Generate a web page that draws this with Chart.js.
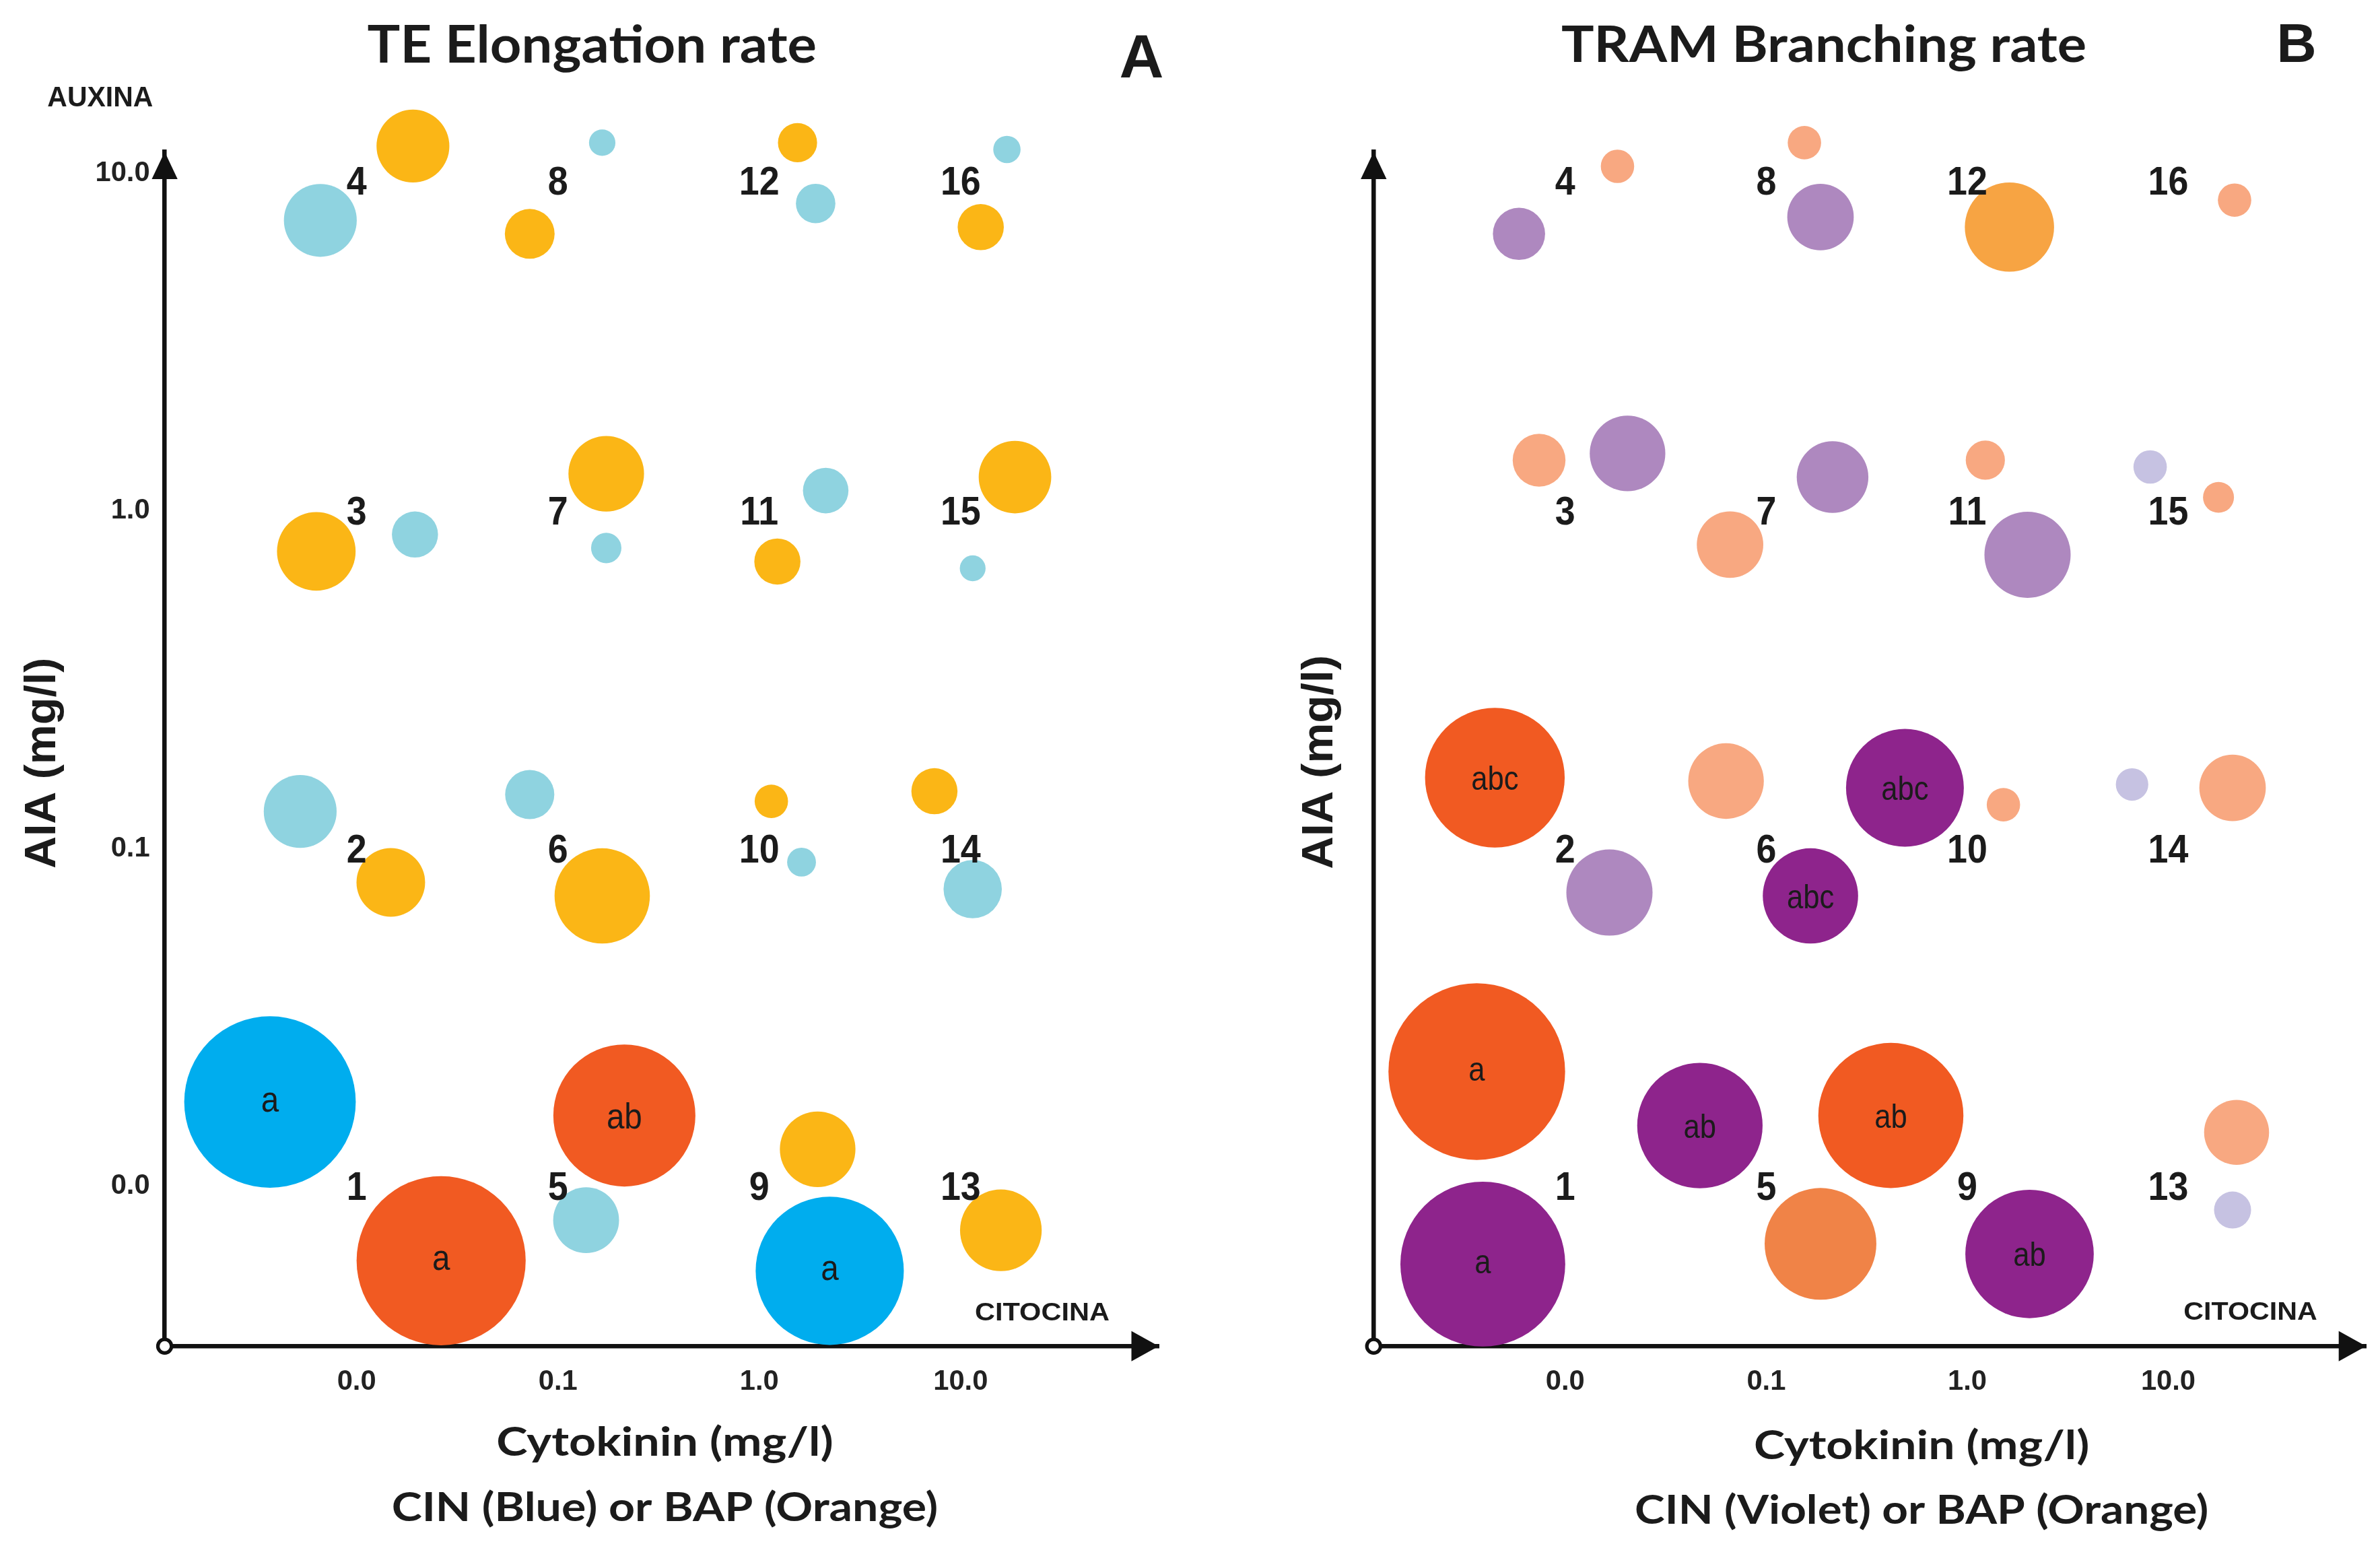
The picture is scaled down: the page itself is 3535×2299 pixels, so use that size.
<!DOCTYPE html>
<html>
<head>
<meta charset="utf-8">
<title>TE Elongation / TRAM Branching</title>
<script src="https://cdn.jsdelivr.net/npm/chart.js@4.4.1/dist/chart.umd.min.js"></script>
<style>
  html, body { margin: 0; padding: 0; background: #fff; overflow: hidden; }
  .panel { position: absolute; top: 0; height: 2299px; }
  #panelA { left: 0; width: 1768px; }
  #panelB { left: 1768px; width: 1767px; }
</style>
</head>
<body>
<div class="panel" id="panelA"><canvas id="chartA"></canvas></div>
<div class="panel" id="panelB"><canvas id="chartB"></canvas></div>
<script>
// treatment number k sits at column floor((k-1)/4) (cytokinin) and row (k-1)%4 (auxin)
const treatments = [1, 2, 3, 4, 5, 6, 7, 8, 9, 10, 11, 12, 13, 14, 15, 16];
const xTickLabels = ['0.0', '0.1', '1.0', '10.0'];
const yTickLabels = ['0.0', '0.1', '1.0', '10.0'];

// A - TE elongation rate, CIN (blue)
const aCinX    = [-0.43, -0.28, 0.29, -0.18, 1.14, 0.86, 1.24, 1.22, 2.35, 2.21, 2.33, 2.28, null, 3.06, 3.06, 3.23];
const aCinY    = [0.25, 1.11, 1.93, 2.86, -0.10, 1.16, 1.89, 3.09, -0.25, 0.96, 2.06, 2.91, null, 0.88, 1.83, 3.07];
const aCinSize = [56.5, 24, 15.2, 24, 21.7, 16.2, 10, 8.7, 48.8, 9.5, 15, 13, null, 19.2, 8.5, 9];
const aCinSig  = ['a', '', '', '', '', '', '', '', 'a', '', '', '', '', '', '', ''];
const aCinTone = [1, 0, 0, 0, 0, 0, 0, 0, 1, 0, 0, 0, 0, 0, 0, 0];

// A - TE elongation rate, BAP (orange)
const aBapX    = [0.42, 0.17, -0.20, 0.28, 1.33, 1.22, 1.24, 0.86, 2.29, 2.06, 2.09, 2.19, 3.20, 2.87, 3.27, 3.10];
const aBapY    = [-0.22, 0.90, 1.88, 3.08, 0.21, 0.86, 2.11, 2.82, 0.11, 1.14, 1.85, 3.09, -0.13, 1.17, 2.10, 2.84];
const aBapSize = [55.7, 22.6, 25.9, 24, 46.8, 31.4, 24.9, 16.4, 24.9, 11, 15.2, 12.9, 26.9, 15.2, 23.9, 15.2];
const aBapSig  = ['a', '', '', '', 'ab', '', '', '', '', '', '', '', '', '', '', ''];
const aBapTone = [1, 0, 0, 0, 1, 0, 0, 0, 0, 0, 0, 0, 0, 0, 0, 0];

// B - TRAM branching rate, CIN (violet)
const bCinX    = [-0.41, 0.22, 0.31, -0.23, 0.67, 1.22, 1.33, 1.27, 2.31, 1.69, 2.30, 2.09, 3.32, 2.82, 2.91, 3.08];
const bCinY    = [-0.23, 0.87, 2.17, 2.82, 0.18, 0.86, 2.10, 2.87, -0.20, 1.18, 1.87, 3.14, -0.07, 1.19, 2.13, 3.12];
const bCinSize = [54.3, 28.4, 24.9, 17.2, 41.3, 31.4, 23.6, 21.9, 42.3, 38.8, 28.4, 12.9, 12.2, 10.7, 11, 11];
const bCinSig  = ['a', '', '', '', 'ab', 'abc', '', '', 'ab', 'abc', '', '', '', '', '', ''];
const bCinTone = [2, 1, 1, 1, 2, 2, 1, 1, 2, 2, 1, 0, 0, 0, 0, 0];

// B - TRAM branching rate, BAP (orange)
const bBapX    = [-0.44, -0.35, -0.13, 0.26, 1.27, 0.80, 0.82, 1.19, 1.62, 2.18, 2.09, 2.21, 3.34, 3.32, 3.25, 3.33];
const bBapY    = [0.34, 1.21, 2.15, 3.02, -0.17, 1.20, 1.90, 3.09, 0.21, 1.13, 2.15, 2.84, 0.16, 1.18, 2.04, 2.92];
const bBapSize = [58.2, 46, 17.4, 11, 36.8, 24.9, 21.9, 11, 47.8, 11, 12.9, 29.4, 21.4, 21.9, 10.2, 11];
const bBapSig  = ['a', 'abc', '', '', '', '', '', '', 'ab', '', '', '', '', '', '', ''];
const bBapTone = [3, 3, 0, 0, 2, 0, 0, 0, 3, 0, 0, 1, 0, 0, 0, 0];

// the layout below was measured on a 1568 px wide copy of the figure
const S = 3535 / 1568;
const px = v => v * S;
const FONT = "'Liberation Sans', Arial, sans-serif";
const TITLE_FONT = "Lato, 'Open Sans', sans-serif";
const INK = '#1b1b1b';

function makePoints(xs, ys, sizes, sig, tone) {
    let pts = [];
    xs.forEach((x, i) => {
        if (x === null) return;
        pts.push({ x: x, y: ys[i], r: px(sizes[i]), sig: sig[i], tone: tone[i] });
    });
    return pts;
}

// text centred on its ink box, squeezed horizontally by sx
function boxText(ctx, str, cx, cy, size, sx, weight) {
    ctx.save();
    ctx.font = weight + ' ' + size + 'px ' + FONT;
    ctx.fillStyle = INK;
    ctx.textAlign = 'center';
    ctx.textBaseline = 'alphabetic';
    let m = ctx.measureText(str);
    ctx.translate(cx, cy + (m.actualBoundingBoxAscent - m.actualBoundingBoxDescent) / 2);
    ctx.scale(sx, 1);
    ctx.fillText(str, 0, 0);
    ctx.restore();
}

// free label: x centre, y baseline, cap height and target width in layout units
function drawLabel(ctx, L, offset) {
    ctx.save();
    ctx.font = 'bold ' + px(L.cap / 0.716) + 'px ' + (L.family || FONT);
    ctx.fillStyle = INK;
    ctx.textAlign = 'center';
    ctx.textBaseline = 'alphabetic';
    let sx = L.w ? px(L.w) / ctx.measureText(L.text).width : 1;
    ctx.translate(px(L.x) - offset, px(L.y));
    if (L.rot) ctx.rotate(-Math.PI / 2);
    ctx.scale(sx, 1);
    ctx.fillText(L.text, 0, 0);
    ctx.restore();
}

const decor = {
    id: 'decor',
    afterDatasetsDraw(chart, args, opts) {
        let ctx = chart.ctx;
        let ca = chart.chartArea;
        let xs = chart.scales.x, ys = chart.scales.y;

        // arrow heads and the origin ring
        ctx.save();
        ctx.fillStyle = '#111';
        ctx.beginPath();
        ctx.moveTo(ca.left, ca.top);
        ctx.lineTo(ca.left - px(8.5), ca.top + px(18));
        ctx.lineTo(ca.left + px(8.5), ca.top + px(18));
        ctx.closePath();
        ctx.fill();
        ctx.beginPath();
        ctx.moveTo(ca.right, ca.bottom);
        ctx.lineTo(ca.right - px(18), ca.bottom - px(10));
        ctx.lineTo(ca.right - px(18), ca.bottom + px(10));
        ctx.closePath();
        ctx.fill();
        ctx.beginPath();
        ctx.arc(ca.left, ca.bottom, px(4.5), 0, Math.PI * 2);
        ctx.fillStyle = '#fff';
        ctx.fill();
        ctx.lineWidth = px(2.3);
        ctx.strokeStyle = '#111';
        ctx.stroke();
        ctx.restore();

        // significance letters
        chart.data.datasets.forEach((ds, di) => {
            chart.getDatasetMeta(di).data.forEach((el, i) => {
                let p = ds.data[i];
                if (p.sig) boxText(ctx, p.sig, el.x, el.y, px(opts.letterSize), 0.88, 'normal');
            });
        });

        // treatment numbers at the grid crossings (top row sits a little lower)
        treatments.forEach(t => {
            let col = Math.floor((t - 1) / 4), row = (t - 1) % 4;
            let dy = row === 3 ? px(5) : 0;
            boxText(ctx, String(t), xs.getPixelForValue(col), ys.getPixelForValue(row) + dy, px(26.5), 0.9, 'bold');
        });

        opts.labels.forEach(L => drawLabel(ctx, L, opts.offset));
    }
};

function makeChart(p) {
    let canvasW = document.getElementById(p.canvas).parentNode.clientWidth;
    let leftPx = px(p.area.left) - p.offset;
    let rightPx = px(p.area.right) - p.offset;
    let topPx = px(p.area.top);
    let bottomPx = px(p.area.bottom);

    let datasets = p.series.map(s => ({
        label: s.name,
        data: s.pts,
        backgroundColor: c => s.palette[c.raw.tone],
        hoverBackgroundColor: c => s.palette[c.raw.tone],
        borderWidth: 0,
        hoverBorderWidth: 0,
        clip: false
    }));

    return new Chart(document.getElementById(p.canvas), {
        type: 'bubble',
        data: { datasets: datasets },
        plugins: [decor],
        options: {
            responsive: true,
            maintainAspectRatio: false,
            animation: false,
            events: [],
            layout: {
                autoPadding: false,
                padding: { top: topPx, left: 0, right: canvasW - rightPx, bottom: 0 }
            },
            plugins: {
                legend: { display: false },
                tooltip: { enabled: false },
                decor: { offset: p.offset, labels: p.labels, letterSize: p.letterSize }
            },
            scales: {
                x: {
                    type: 'linear',
                    position: 'bottom',
                    min: -0.953,
                    max: 3.984,
                    afterFit: sc => { sc.height = 2299 - bottomPx; },
                    afterBuildTicks: sc => { sc.ticks = xTickLabels.map((_, i) => ({ value: i })); },
                    grid: { display: false, drawTicks: false },
                    border: { display: true, color: '#111', width: px(2.9) },
                    ticks: {
                        padding: 28,
                        maxRotation: 0,
                        autoSkip: false,
                        color: '#222',
                        font: { family: FONT, size: px(18.5), weight: 'bold' },
                        callback: v => xTickLabels[v]
                    }
                },
                y: {
                    type: 'linear',
                    position: 'left',
                    min: -0.473,
                    max: 3.063,
                    afterFit: sc => { sc.width = leftPx; },
                    afterBuildTicks: sc => { sc.ticks = yTickLabels.map((_, i) => ({ value: i })); },
                    grid: { display: false, drawTicks: false },
                    border: { display: true, color: '#111', width: px(2.9) },
                    ticks: {
                        display: p.yTicks,
                        padding: 22,
                        autoSkip: false,
                        color: '#222',
                        font: { family: FONT, size: px(18.5), weight: 'bold' },
                        callback: v => yTickLabels[v]
                    }
                }
            }
        }
    });
}

makeChart({
    canvas: 'chartA',
    offset: 0,
    area: { left: 108.5, right: 763.4, top: 100, bottom: 886.8 },
    yTicks: true,
    letterSize: 24,
    series: [
        { name: 'CIN', pts: makePoints(aCinX, aCinY, aCinSize, aCinSig, aCinTone), palette: ['#8FD3E0', '#00ADEE'] },
        { name: 'BAP', pts: makePoints(aBapX, aBapY, aBapSize, aBapSig, aBapTone), palette: ['#FBB616', '#F15A22'] }
    ],
    labels: [
        { text: 'TE Elongation rate', x: 390, y: 41.2, cap: 24.5, w: 296, family: TITLE_FONT },
        { text: 'A', x: 752, y: 51, cap: 29 },
        { text: 'AUXINA', x: 66, y: 70.2, cap: 13.3, w: 69.6 },
        { text: 'CITOCINA', x: 686.6, y: 870, cap: 12, w: 88.7 },
        { text: 'Cytokinin (mg/l)', x: 438, y: 959, cap: 19, w: 222, family: TITLE_FONT },
        { text: 'CIN (Blue) or BAP (Orange)', x: 438, y: 1002, cap: 19, w: 360, family: TITLE_FONT },
        { text: 'AIA (mg/l)', x: 36.2, y: 502.7, cap: 20.7, w: 139, rot: true }
    ]
});

makeChart({
    canvas: 'chartB',
    offset: 1768,
    area: { left: 905, right: 1558.8, top: 100, bottom: 886.8 },
    yTicks: false,
    letterSize: 22,
    series: [
        { name: 'CIN', pts: makePoints(bCinX, bCinY, bCinSize, bCinSig, bCinTone), palette: ['#C6C2E2', '#AE88BF', '#8E248C'] },
        { name: 'BAP', pts: makePoints(bBapX, bBapY, bBapSize, bBapSig, bBapTone), palette: ['#F8A881', '#F7A443', '#F08347', '#F15A22'] }
    ],
    labels: [
        { text: 'TRAM Branching rate', x: 1201.6, y: 40.7, cap: 23.5, w: 346, family: TITLE_FONT },
        { text: 'B', x: 1513, y: 40.7, cap: 26 },
        { text: 'CITOCINA', x: 1482.6, y: 869.4, cap: 12, w: 88 },
        { text: 'Cytokinin (mg/l)', x: 1266, y: 961, cap: 19, w: 221, family: TITLE_FONT },
        { text: 'CIN (Violet) or BAP (Orange)', x: 1266, y: 1004, cap: 19, w: 378, family: TITLE_FONT },
        { text: 'AIA (mg/l)', x: 878, y: 502, cap: 20.7, w: 141, rot: true }
    ]
});
</script>
</body>
</html>
